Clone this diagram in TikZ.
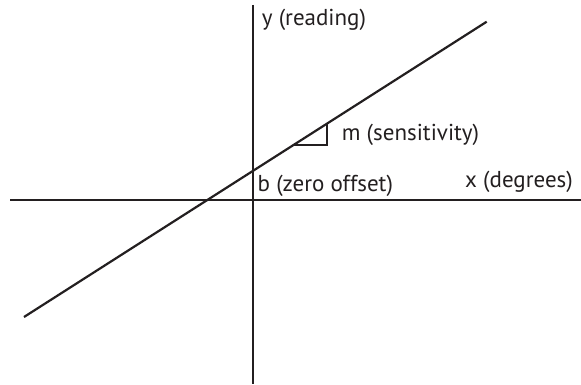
\documentclass[tikz,border=0pt]{standalone}
\usepackage{fontspec}
\setmainfont{PT Sans}
\definecolor{ink}{HTML}{231F20}
\begin{document}
\begin{tikzpicture}[x=1pt,y=-1pt,
  axis/.style={line width=2.2pt,draw=ink},
  lbl/.style={anchor=west,inner sep=0pt,text=ink,font=\fontsize{23}{26}\selectfont}]
\useasboundingbox (0,0) rectangle (581,385);
\coordinate (xl) at (10,199.7);
\coordinate (xr) at (581,199.7);
\coordinate (yt) at (252.7,5);
\coordinate (yb) at (252.7,384);
\coordinate (la) at (24,317);
\coordinate (lb) at (486.7,21.7);
\coordinate (t1) at (293.3,145.5);
\coordinate (t2) at (326.7,124.2);
\coordinate (t3) at (326.7,145.5);
\draw[axis] (xl) -- (xr);
\draw[axis] (yt) -- (yb);
\draw[axis] (la) -- (lb);
\draw[axis,line width=2pt] (t1) -- (t3) -- (t2);
\node[lbl] (ylab) at (261.7,20) {y (reading)};
\node[lbl] (mlab) at (341.7,135) {m (sensitivity)};
\node[lbl] (blab) at (257.5,186) {b (zero offset)};
\node[lbl] (xlab) at (465,182) {x (degrees)};
\end{tikzpicture}
\end{document}
